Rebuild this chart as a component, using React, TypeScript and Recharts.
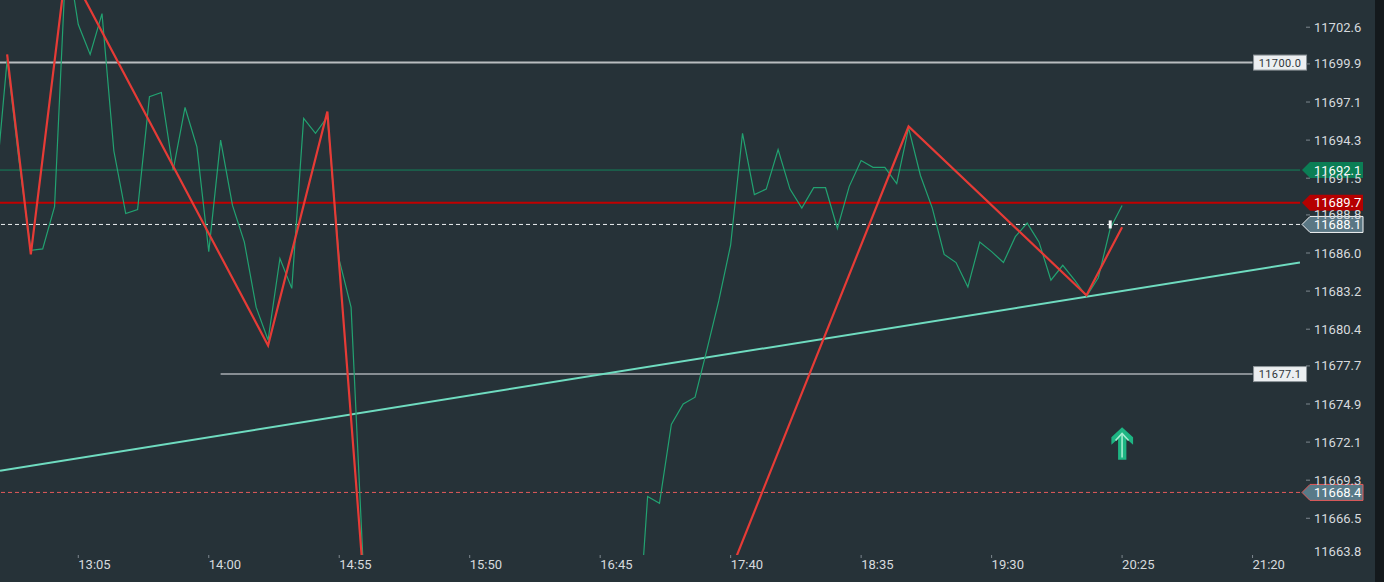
import { ComposedChart, Line, XAxis, YAxis, ReferenceLine, ReferenceDot, Scatter } from 'recharts';

// 5-minute closes starting at 12:30
const startTime = '12:30';
const closes = [
  11690.5, 11700.2, 11692.8, 11686.2, 11686.3, 11689.4, 11708.3, 11702.8, 11700.6, 11703.6, 11693.5, 11688.9,
  11689.2, 11697.5, 11697.8, 11692.1, 11696.7, 11693.8, 11686.1, 11694.3, 11689.5, 11686.8, 11682.0, 11679.6,
  11685.6, 11683.4, 11695.9, 11694.8, 11696.0, 11685.5, 11682.0, 11663.4, 11650, 11638, 11625, 11614,
  11606, 11612, 11618, 11615, 11622, 11628, 11625, 11632, 11636, 11634, 11640, 11643,
  11641, 11646, 11649, 11647, 11651, 11653, 11655.3, 11668.1, 11667.6, 11673.4, 11674.9, 11675.4,
  11678.9, 11682.5, 11686.6, 11694.8, 11690.3, 11690.7, 11693.6, 11690.7, 11689.3, 11690.8, 11690.8, 11687.8,
  11690.9, 11692.8, 11692.3, 11692.3, 11691.1, 11695.2, 11691.7, 11689.3, 11685.9, 11685.3, 11683.5, 11686.8,
  11686.1, 11685.3, 11687.2, 11688.2, 11686.8, 11684.0, 11685.1, 11684.0, 11682.8, 11684.2, 11687.8, 11689.5,
];

const zigzagTimes = ['12:35', '12:45', '13:00', '14:25', '14:50', '15:30', '18:55', '20:10', '20:25'];
const zigzagValues = [11700.6, 11685.9, 11707.2, 11679.2, 11696.4, 11606, 11695.3, 11682.9, 11687.9];

const trendTimes = ['12:32', '21:40'];
const trendValues = [11670.0, 11685.3];

const signalTimes = ['20:25'];
const signalValues = [11672.0];

const lastBarTime = '20:20';
const lastPrice = 11688.1;
const bidPrice = 11692.1;
const askPrice = 11689.7;
const stopPrice = 11668.4;
const upperLevel = 11700.0;
const lowerLevel = 11677.1;
const upperLevelFrom = '12:32';
const lowerLevelFrom = '14:05';
const levelsTo = '21:20';

const timeTicks = ['13:05', '14:00', '14:55', '15:50', '16:45', '17:40', '18:35', '19:30', '20:25', '21:20'];
const priceTicks = [
  11663.8, 11666.5, 11669.3, 11672.1, 11674.9, 11677.7, 11680.4, 11683.2,
  11686.0, 11688.8, 11691.5, 11694.3, 11697.1, 11699.9, 11702.6,
];

const toMin = (s: string) => {
  const [h, m] = s.split(':').map(Number);
  return h * 60 + m;
};
const fmtTime = (m: number) => `${Math.floor(m / 60)}:${String(m % 60).padStart(2, '0')}`;

const start = toMin(startTime);
const closeData = closes.map((v, i) => ({ t: start + i * 5, v }));
const zigzagData = zigzagTimes.map((s, i) => ({ t: toMin(s), v: zigzagValues[i] }));
const trendData = trendTimes.map((s, i) => ({ t: toMin(s), v: trendValues[i] }));
const signalData = signalTimes.map((s, i) => ({ t: toMin(s), v: signalValues[i] }));

const BG = '#263238';
const FONT = 'Roboto, sans-serif';

function TimeTick({ x, y, payload }: any) {
  return (
    <g>
      <line x1={x} x2={x} y1={y} y2={y + 3} stroke="#7d878e" />
      <text x={x} y={y + 13.5} fill="#d6dade" fontSize={13} fontFamily={FONT} textAnchor="start">
        {fmtTime(payload.value)}
      </text>
    </g>
  );
}

function PriceTick({ x, y, payload, index }: any) {
  const last = index === 0;
  const ty = last ? y - 4 : y;
  return (
    <g>
      {!last && <line x1={x + 6} x2={x + 10} y1={y} y2={y} stroke="#7d878e" />}
      <text x={x + 14} y={ty + 4.5} fill="#d6dade" fontSize={13} fontFamily={FONT} textAnchor="start">
        {Number(payload.value).toFixed(1)}
      </text>
    </g>
  );
}

function PriceTag({ viewBox, text, fill, stroke }: any) {
  const x = viewBox.x + viewBox.width;
  const y = viewBox.y;
  const d = `M${x + 2},${y} L${x + 10},${y - 8} L${x + 63},${y - 8} L${x + 63},${y + 8} L${x + 10},${y + 8} Z`;
  return (
    <g>
      <path d={d} fill={fill} stroke={stroke || 'none'} strokeWidth={1} />
      <text x={x + 14} y={y + 4.5} fill="#ffffff" fontSize={13} fontFamily={FONT}>
        {text}
      </text>
    </g>
  );
}

function LevelBox({ viewBox, text }: any) {
  const x = viewBox.x + viewBox.width;
  const y = viewBox.y;
  return (
    <g>
      <rect x={x + 1} y={y - 7.5} width={53} height={15} fill="#eceff1" stroke="#8d9499" />
      <text x={x + 27.5} y={y + 4} fill="#30363a" fontSize={11} fontFamily={FONT} textAnchor="middle" letterSpacing={0.4}>
        {text}
      </text>
    </g>
  );
}

function UpArrow({ cx, cy }: any) {
  const pts = [
    [0, -16.3], [11, -6.3], [11, 1.4], [4.3, -4.6], [4.3, 16.4],
    [-4, 16.4], [-4, -4.6], [-10.7, 1.4], [-10.7, -6.3],
  ].map(([a, b]) => `${cx + a},${cy + b}`).join(' ');
  return (
    <g>
      <polygon points={pts} fill="#1eb583" />
      <polyline points={`${cx - 6.5},${cy - 3} ${cx},${cy - 10} ${cx + 6.5},${cy - 3}`} fill="none" stroke="#a6ecd0" strokeWidth={1.6} />
      <line x1={cx} x2={cx} y1={cy - 10} y2={cy + 14} stroke="#a6ecd0" strokeWidth={1.6} />
    </g>
  );
}

function PriceMarker({ cx, cy }: any) {
  return <rect x={cx - 1.5} y={cy - 4} width={3} height={8} fill="#f4f6f7" />;
}

export default function App() {
  return (
    <div style={{ position: 'fixed', left: 0, top: 0, width: 1384, height: 582, background: BG, fontFamily: FONT }}>
      <ComposedChart width={1384} height={582} margin={{ top: 0, right: 0, bottom: 0, left: 0 }}>
        <XAxis
          type="number"
          dataKey="t"
          domain={[752, 1300]}
          allowDataOverflow
          ticks={timeTicks.map(toMin)}
          interval={0}
          height={27}
          axisLine={false}
          tickLine={false}
          tickSize={0}
          tickMargin={0}
          tick={<TimeTick />}
        />
        <YAxis
          type="number"
          dataKey="v"
          orientation="right"
          domain={[11663.8, 11704.6]}
          allowDataOverflow
          ticks={priceTicks}
          interval={0}
          width={84}
          axisLine={false}
          tickLine={false}
          tickSize={0}
          tickMargin={0}
          tick={<PriceTick />}
        />
        <ReferenceLine
          segment={[{ x: toMin(upperLevelFrom), y: upperLevel }, { x: toMin(levelsTo), y: upperLevel }]}
          stroke="#b9bdc0"
          strokeWidth={2}
          label={<LevelBox text={upperLevel.toFixed(1)} />}
        />
        <ReferenceLine
          segment={[{ x: toMin(lowerLevelFrom), y: lowerLevel }, { x: toMin(levelsTo), y: lowerLevel }]}
          stroke="#a9aeb2"
          strokeWidth={1.5}
          label={<LevelBox text={lowerLevel.toFixed(1)} />}
        />
        <ReferenceLine y={bidPrice} stroke="#13845a" strokeWidth={1} label={<PriceTag text={bidPrice.toFixed(1)} fill="#0b7e55" />} />
        <ReferenceLine y={askPrice} stroke="#c20000" strokeWidth={2} label={<PriceTag text={askPrice.toFixed(1)} fill="#b50000" />} />
        <ReferenceLine
          y={lastPrice}
          stroke="#eceff1"
          strokeDasharray="4 3"
          strokeWidth={1}
          label={<PriceTag text={lastPrice.toFixed(1)} fill="#5a7784" stroke="#f2f4f5" />}
        />
        <ReferenceLine
          y={stopPrice}
          stroke="#e25a5a"
          strokeDasharray="4 3"
          strokeWidth={1}
          label={<PriceTag text={stopPrice.toFixed(1)} fill="#587a88" stroke="#e25a5a" />}
        />
        <Line data={trendData} dataKey="v" stroke="#6fdcc0" strokeWidth={2} dot={false} activeDot={false} isAnimationActive={false} />
        <Line data={closeData} dataKey="v" stroke="#22a271" strokeWidth={1.2} dot={false} activeDot={false} isAnimationActive={false} />
        <Line data={zigzagData} dataKey="v" stroke="#e63b36" strokeWidth={2.2} dot={false} activeDot={false} isAnimationActive={false} />
        <ReferenceDot x={toMin(lastBarTime)} y={lastPrice} shape={<PriceMarker />} />
        <Scatter data={signalData} dataKey="v" shape={<UpArrow />} activeShape={<UpArrow />} isAnimationActive={false} />
      </ComposedChart>
      <div style={{ position: 'absolute', left: 1375, top: 0, width: 9, height: 582, background: '#14191c' }} />
    </div>
  );
}
